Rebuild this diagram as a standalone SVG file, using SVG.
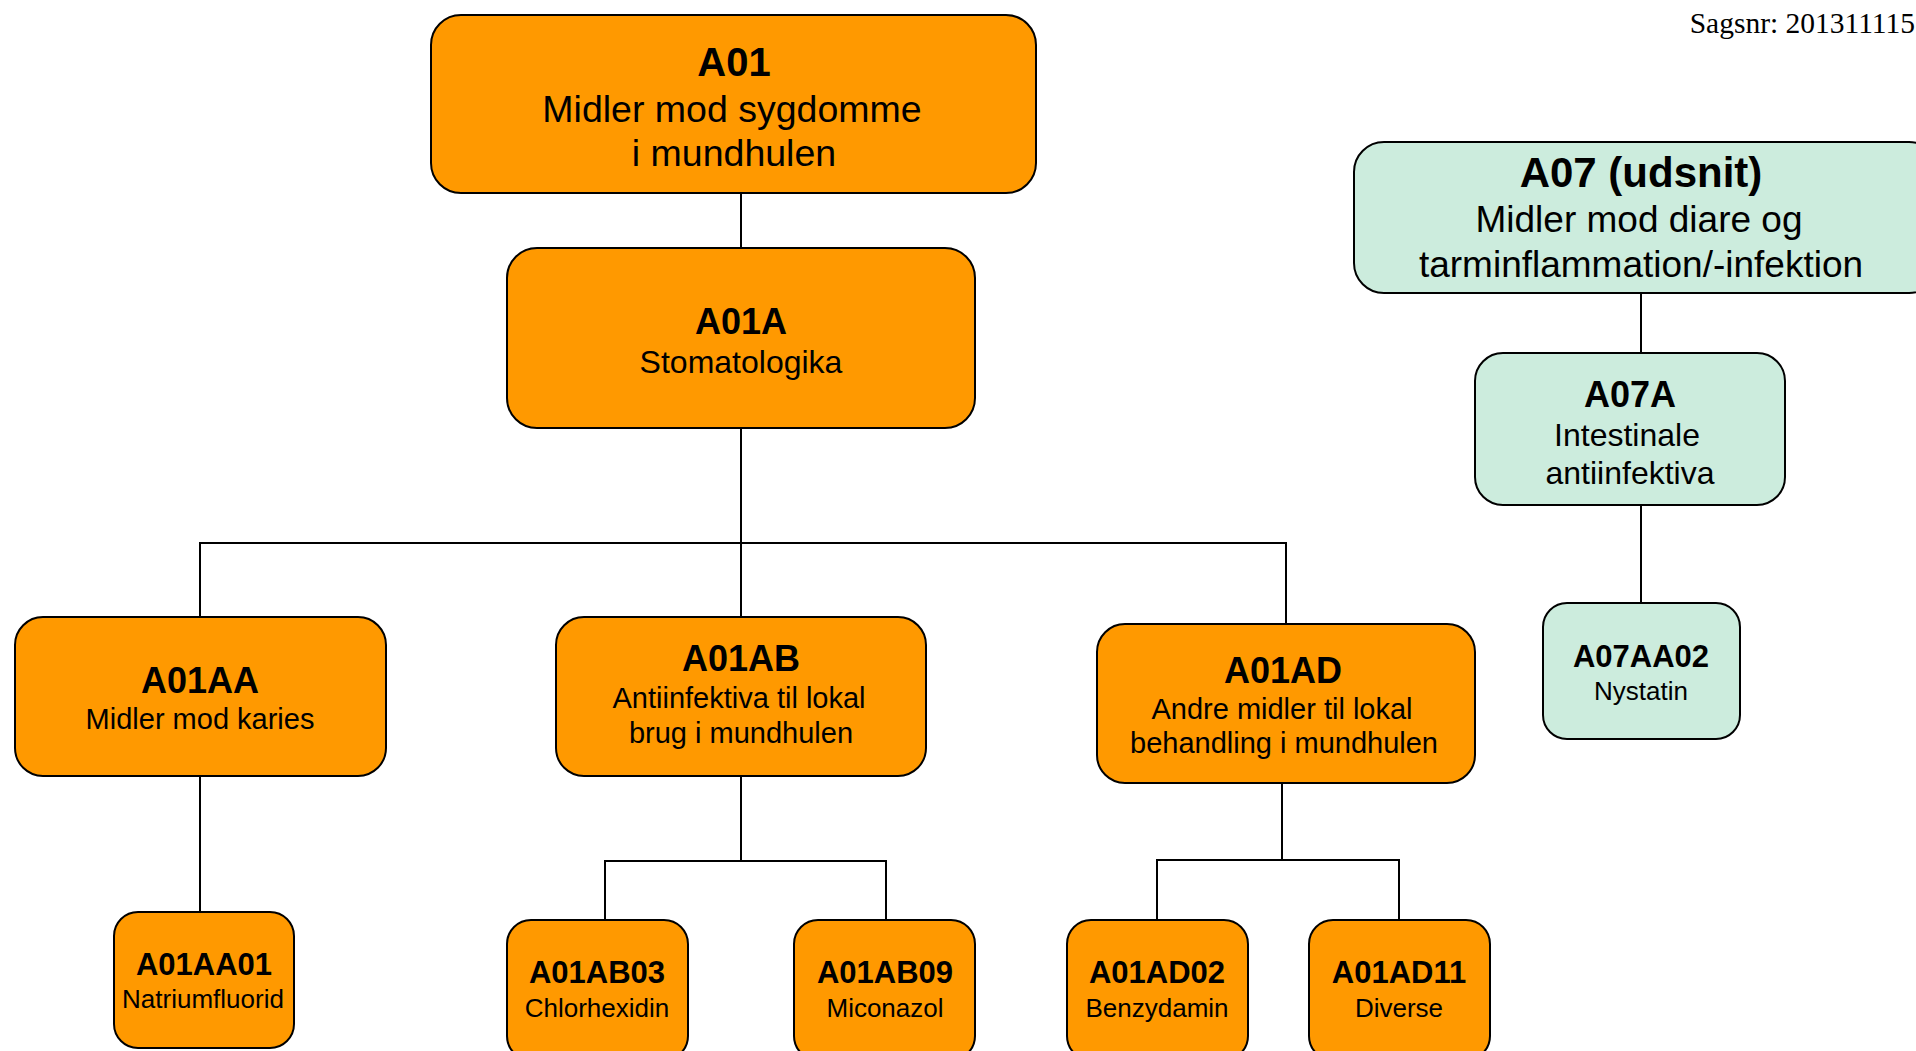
<svg xmlns="http://www.w3.org/2000/svg" width="1916" height="1051" viewBox="0 0 1916 1051">
<style>
.o{fill:#FF9900;stroke:#000;stroke-width:2}
.g{fill:#CCECDD;stroke:#000;stroke-width:2}
text{font-family:"Liberation Sans",Arial,sans-serif;fill:#000;text-anchor:middle}
.b{font-weight:bold}
.c{fill:none;stroke:#000;stroke-width:2}
</style>
<rect width="1916" height="1051" fill="#fff"/>
<g id="connectors">
<path class="c" d="M741 193V248"/>
<path class="c" d="M741 428V617"/>
<path class="c" d="M200 617V543H1286V624"/>
<path class="c" d="M200 776V912"/>
<path class="c" d="M741 776V860"/>
<path class="c" d="M605 920V861H886V920"/>
<path class="c" d="M1282 783V860"/>
<path class="c" d="M1157 920V860H1399V920"/>
<path class="c" d="M1641 293V353"/>
<path class="c" d="M1641 505V603"/>
</g>
<text x="1915" y="33" style="font-family:'Liberation Serif','Times New Roman',serif;font-size:29.5px;text-anchor:end">Sagsnr: 201311115</text>
<g id="A01">
<rect class="o" x="431" y="15" width="605" height="178" rx="30"/>
<text class="b" x="734" y="76" font-size="40">A01</text>
<text x="732" y="122" font-size="37.5">Midler mod sygdomme</text>
<text x="734" y="166" font-size="37.5">i mundhulen</text>
</g>
<g id="A01A">
<rect class="o" x="507" y="248" width="468" height="180" rx="30"/>
<text class="b" x="741" y="334" font-size="36">A01A</text>
<text x="741" y="373" font-size="32">Stomatologika</text>
</g>
<g id="A01AA">
<rect class="o" x="15" y="617" width="371" height="159" rx="28"/>
<text class="b" x="200" y="693" font-size="36">A01AA</text>
<text x="200" y="729" font-size="29">Midler mod karies</text>
</g>
<g id="A01AB">
<rect class="o" x="556" y="617" width="370" height="159" rx="28"/>
<text class="b" x="741" y="671" font-size="36">A01AB</text>
<text x="739" y="708" font-size="29">Antiinfektiva til lokal</text>
<text x="741" y="743" font-size="29">brug i mundhulen</text>
</g>
<g id="A01AD">
<rect class="o" x="1097" y="624" width="378" height="159" rx="28"/>
<text class="b" x="1283" y="683" font-size="36">A01AD</text>
<text x="1282" y="719" font-size="29">Andre midler til lokal</text>
<text x="1284" y="753" font-size="29">behandling i mundhulen</text>
</g>
<g id="A07">
<rect class="g" x="1354" y="142" width="585" height="151" rx="30"/>
<text class="b" x="1641" y="187" font-size="42">A07 (udsnit)</text>
<text x="1639" y="232" font-size="37">Midler mod diare og</text>
<text x="1641" y="277" font-size="37">tarminflammation/-infektion</text>
</g>
<g id="A07A">
<rect class="g" x="1475" y="353" width="310" height="152" rx="28"/>
<text class="b" x="1630" y="407" font-size="36">A07A</text>
<text x="1627" y="446" font-size="32">Intestinale</text>
<text x="1630" y="484" font-size="32">antiinfektiva</text>
</g>
<g id="A07AA02">
<rect class="g" x="1543" y="603" width="197" height="136" rx="24"/>
<text class="b" x="1641" y="667" font-size="31">A07AA02</text>
<text x="1641" y="700" font-size="26">Nystatin</text>
</g>
<g id="A01AA01">
<rect class="o" x="114" y="912" width="180" height="136" rx="24"/>
<text class="b" x="204" y="975" font-size="31">A01AA01</text>
<text x="203" y="1008" font-size="26">Natriumfluorid</text>
</g>
<g id="A01AB03">
<rect class="o" x="507" y="920" width="181" height="140" rx="24"/>
<text class="b" x="597" y="983" font-size="31">A01AB03</text>
<text x="597" y="1017" font-size="26">Chlorhexidin</text>
</g>
<g id="A01AB09">
<rect class="o" x="794" y="920" width="181" height="140" rx="24"/>
<text class="b" x="885" y="983" font-size="31">A01AB09</text>
<text x="885" y="1017" font-size="26">Miconazol</text>
</g>
<g id="A01AD02">
<rect class="o" x="1067" y="920" width="181" height="140" rx="24"/>
<text class="b" x="1157" y="983" font-size="31">A01AD02</text>
<text x="1157" y="1017" font-size="26">Benzydamin</text>
</g>
<g id="A01AD11">
<rect class="o" x="1309" y="920" width="181" height="140" rx="24"/>
<text class="b" x="1399" y="983" font-size="31">A01AD11</text>
<text x="1399" y="1017" font-size="26">Diverse</text>
</g>
</svg>
